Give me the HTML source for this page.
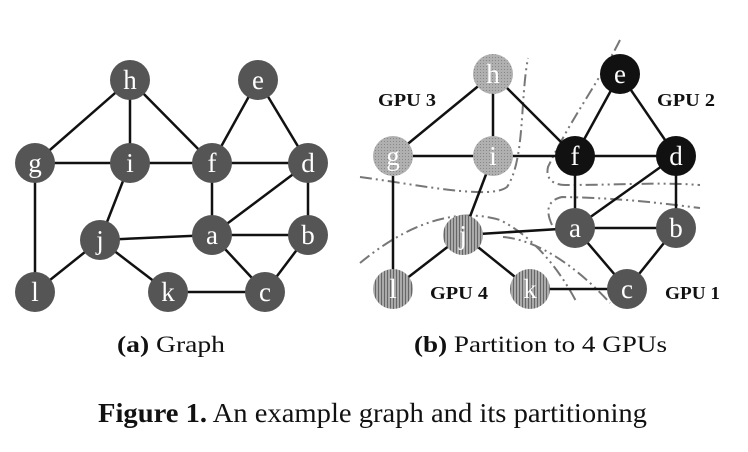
<!DOCTYPE html>
<html><head><meta charset="utf-8"><style>
body{margin:0;background:#fff;}
svg{display:block;}
.cap{font-family:"Liberation Serif",serif;fill:#111;}
</style></head><body>
<svg id="fig" width="748" height="452" viewBox="0 0 748 452">
<defs>
<pattern id="dots" width="3" height="3" patternUnits="userSpaceOnUse"><rect width="3" height="3" fill="#b0b0b0"/><rect width="1" height="1" fill="#888"/></pattern>
<pattern id="vstripes" width="3" height="3" patternUnits="userSpaceOnUse"><rect width="3" height="3" fill="#aaa"/><rect width="1" height="3" fill="#666"/></pattern>
</defs>
<g id="edgesL"></g>
<g id="nodesL"></g>
<g id="bounds" fill="none" stroke="#777" stroke-width="2" stroke-dasharray="12,4,2,4,2,4">
<path d="M360,177 C420,185 490,200 507,187 C525,160 520,100 528,58"/>
<path d="M360,263 C400,230 450,205 500,220 C540,240 565,280 577,303"/>
<path d="M503,237 C540,240 580,270 610,303"/>
<path d="M620,40 C600,80 570,120 548,167 C545,180 555,185 565,185 C620,185 660,182 700,185"/>
<path d="M552,225 C545,210 548,200 562,197 C620,198 660,203 700,208"/>
</g>
<g id="edgesR"></g>
<g id="nodesR"></g>
<g font-family="Liberation Serif,serif" font-weight="bold" font-size="18" fill="#111">
<text x="378" y="106" textLength="58" lengthAdjust="spacingAndGlyphs">GPU 3</text>
<text x="657" y="106" textLength="58" lengthAdjust="spacingAndGlyphs">GPU 2</text>
<text x="430" y="299" textLength="58" lengthAdjust="spacingAndGlyphs">GPU 4</text>
<text x="665" y="299" textLength="55" lengthAdjust="spacingAndGlyphs">GPU 1</text>
</g>
<text class="cap" x="117" y="352" font-size="23" textLength="108" lengthAdjust="spacingAndGlyphs"><tspan font-weight="bold">(a)</tspan> Graph</text>
<text class="cap" x="414" y="352" font-size="23" textLength="253" lengthAdjust="spacingAndGlyphs"><tspan font-weight="bold">(b)</tspan> Partition to 4 GPUs</text>
<text class="cap" x="98" y="422" font-size="27" textLength="549" lengthAdjust="spacingAndGlyphs"><tspan font-weight="bold">Figure 1.</tspan> An example graph and its partitioning</text>
</svg>
<script>
const nodeNames=['h','e','g','i','f','d','j','a','b','l','k','c'];
const posL=[[130,80],[258,80],[35,163],[130,163],[212,163],[308,163],[100,240],[212,235],[308,235],[35,292],[168,292],[265,292]];
const posR=[[493,74],[620,74],[393,156],[493,156],[575,156],[676,156],[463,235],[575,228],[676,228],[393,289],[530,289],[627,289]];
const gpu={h:3,g:3,i:3,e:2,f:2,d:2,j:4,l:4,k:4,a:1,b:1,c:1};
const edges=[['h','g'],['h','i'],['h','f'],['e','f'],['e','d'],['g','i'],['i','f'],['f','d'],['g','l'],['i','j'],['f','a'],['d','a'],['d','b'],['j','a'],['a','b'],['j','l'],['j','k'],['a','c'],['b','c'],['k','c']];
const NS='http://www.w3.org/2000/svg';
function draw(pos,eg,ng,styled){
  const P={};nodeNames.forEach((n,i)=>P[n]=pos[i]);
  edges.forEach(([u,v])=>{const l=document.createElementNS(NS,'line');
    l.setAttribute('x1',P[u][0]);l.setAttribute('y1',P[u][1]);l.setAttribute('x2',P[v][0]);l.setAttribute('y2',P[v][1]);
    l.setAttribute('stroke','#111');l.setAttribute('stroke-width','2.5');
    
    
    eg.appendChild(l);});
  nodeNames.forEach(n=>{const g=document.createElementNS(NS,'g');
    
    
    const c=document.createElementNS(NS,'circle');c.setAttribute('cx',P[n][0]);c.setAttribute('cy',P[n][1]);c.setAttribute('r','20');
    let f='#555';
    if(styled){f={1:'#555',2:'#111',3:'url(#dots)',4:'url(#vstripes)'}[gpu[n]];}
    c.setAttribute('fill',f);g.appendChild(c);
    const t=document.createElementNS(NS,'text');t.setAttribute('x',P[n][0]);t.setAttribute('y',P[n][1]+9);
    t.setAttribute('text-anchor','middle');t.setAttribute('font-family','Liberation Serif,serif');t.setAttribute('font-size','27');t.setAttribute('fill','#fff');
    t.textContent=n;g.appendChild(t);ng.appendChild(g);});
}
draw(posL,document.getElementById('edgesL'),document.getElementById('nodesL'),false);
draw(posR,document.getElementById('edgesR'),document.getElementById('nodesR'),true);
</script>
</body></html>
